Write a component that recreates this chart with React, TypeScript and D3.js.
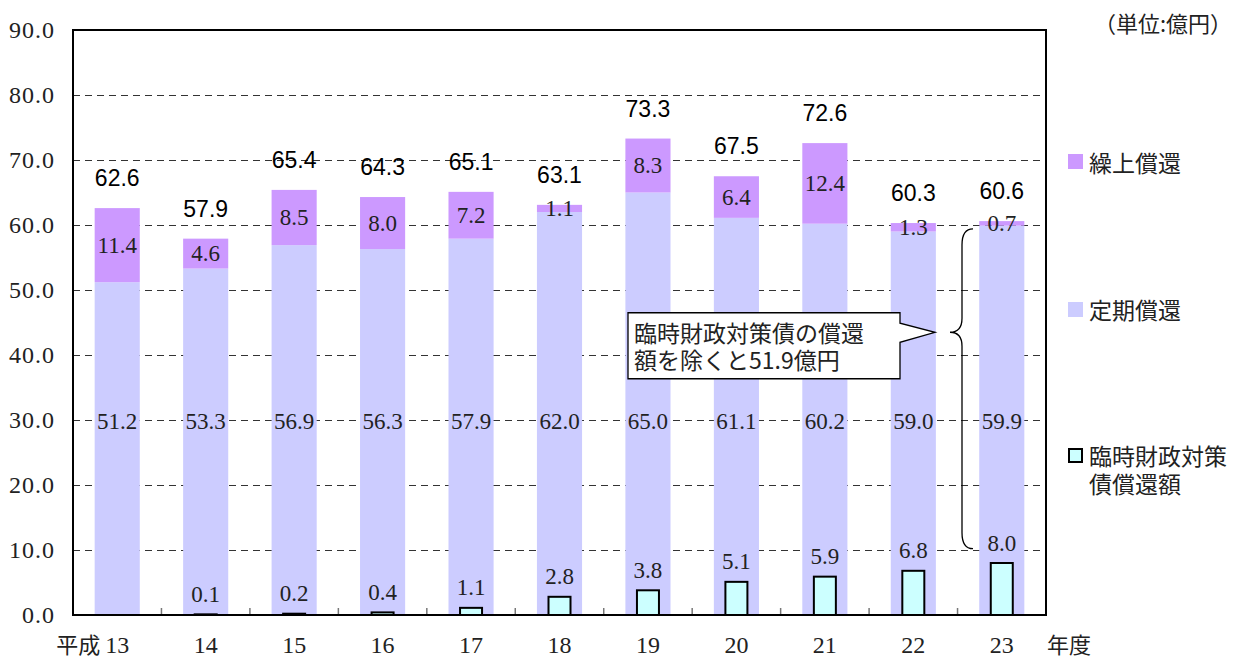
import React from "react";
import * as d3 from "d3";

// 年度 (平成)
const years = ["13", "14", "15", "16", "17", "18", "19", "20", "21", "22", "23"];
// 定期償還 (億円)
const regular = [51.2, 53.3, 56.9, 56.3, 57.9, 62.0, 65.0, 61.1, 60.2, 59.0, 59.9];
// 繰上償還 (億円)
const early = [11.4, 4.6, 8.5, 8.0, 7.2, 1.1, 8.3, 6.4, 12.4, 1.3, 0.7];
// 臨時財政対策債償還額 (億円) — 平成13年度は該当なし
const special: (number | null)[] = [null, 0.1, 0.2, 0.4, 1.1, 2.8, 3.8, 5.1, 5.9, 6.8, 8.0];
const yTicks = [0, 10, 20, 30, 40, 50, 60, 70, 80, 90];

const C_EARLY = "#CC99FF";
const C_REG = "#CCCCFF";
const C_SPEC = "#CCFFFF";

const SERIF = "'Liberation Serif', 'Noto Sans CJK JP', serif";
const SANS = "'Liberation Sans', Arial, sans-serif";
const CJK = "'Noto Sans CJK JP', sans-serif";

export default function App() {
  const W = 1240;
  const H = 659;
  const left = 73;
  const right = 1046;
  const top = 30;
  const bottom = 615;

  const x = d3
    .scaleBand<string>()
    .domain(years)
    .range([left, right])
    .paddingInner(0.49)
    .paddingOuter(0.245);
  const y = d3.scaleLinear().domain([0, 90]).range([bottom, top]);
  const step = x.step();
  const bw = x.bandwidth();
  const sw = 22;
  const fmt = d3.format(".1f");

  const totals = regular.map((r, i) => +(r + early[i]).toFixed(1));

  // brace and callout anchored to the value scale
  const braceTop = y(59.4);
  const braceMid = y(43.5);
  const braceBot = y(10.2);
  const bx = 962;
  const brace = `M ${bx + 11} ${braceTop} Q ${bx} ${braceTop} ${bx} ${braceTop + 16} L ${bx} ${braceMid - 14} Q ${bx} ${braceMid} ${bx - 12} ${braceMid} Q ${bx} ${braceMid} ${bx} ${braceMid + 14} L ${bx} ${braceBot - 16} Q ${bx} ${braceBot} ${bx + 11} ${braceBot}`;

  const boxL = 628;
  const boxR = 900;
  const boxT = y(46.5);
  const boxB = y(36.35);
  const tipX = 935;
  const callout = `M ${boxL} ${boxT} H ${boxR} V ${braceMid - 9} L ${tipX} ${braceMid} L ${boxR} ${braceMid + 10} V ${boxB} H ${boxL} Z`;

  const axisBaseline = 653;

  return (
    <svg
      width={W}
      height={H}
      style={{ position: "absolute", left: 0, top: 0, background: "#fff" }}
    >
      {/* gridlines */}
      {yTicks
        .filter((t) => t > 0 && t < 90)
        .map((t) => (
          <line
            key={t}
            x1={left}
            x2={right}
            y1={Math.round(y(t)) + 0.5}
            y2={Math.round(y(t)) + 0.5}
            stroke="#333"
            strokeWidth={1}
            strokeDasharray="7,5"
          />
        ))}

      {/* stacked bars */}
      {years.map((yr, i) => (
        <g key={yr}>
          <rect
            x={x(yr)}
            y={y(regular[i])}
            width={bw}
            height={y(0) - y(regular[i])}
            fill={C_REG}
          />
          <rect
            x={x(yr)}
            y={y(totals[i])}
            width={bw}
            height={y(regular[i]) - y(totals[i])}
            fill={C_EARLY}
          />
        </g>
      ))}

      {/* 臨時財政対策債償還額 */}
      {years.map((yr, i) => {
        const v = special[i];
        if (v == null) return null;
        const cx = (x(yr) as number) + bw / 2;
        return (
          <rect
            key={yr}
            x={cx - sw / 2}
            y={y(v)}
            width={sw}
            height={y(0) - y(v)}
            fill={C_SPEC}
            stroke="#000"
            strokeWidth={2}
          />
        );
      })}

      {/* x tick marks between categories */}
      {years.slice(1).map((yr, i) => (
        <line
          key={yr}
          x1={left + step * (i + 1)}
          x2={left + step * (i + 1)}
          y1={bottom}
          y2={bottom - 7}
          stroke="#777"
          strokeWidth={1.5}
        />
      ))}

      {/* plot frame */}
      <rect
        x={left}
        y={top}
        width={right - left}
        height={bottom - top}
        fill="none"
        stroke="#000"
        strokeWidth={2}
      />

      {/* labels in segments */}
      {years.map((yr, i) => {
        const cx = (x(yr) as number) + bw / 2;
        const v = special[i];
        return (
          <g key={yr} fontFamily={SERIF} fontSize={23} fill="#222" textAnchor="middle">
            <text x={cx} y={(y(regular[i]) + y(totals[i])) / 2} dominantBaseline="central">
              {fmt(early[i])}
            </text>
            <text x={cx} y={y(29.8)} dominantBaseline="central">
              {fmt(regular[i])}
            </text>
            {v != null && (
              <text x={cx} y={y(v) - 20} dominantBaseline="central">
                {fmt(v)}
              </text>
            )}
            <text
              x={cx}
              y={y(totals[i]) - 30}
              dominantBaseline="central"
              fontFamily={SANS}
              fontSize={23}
              fill="#000"
            >
              {fmt(totals[i])}
            </text>
          </g>
        );
      })}

      {/* y axis labels */}
      {yTicks.map((t) => (
        <text
          key={t}
          x={55}
          y={y(t)}
          textAnchor="end"
          dominantBaseline="central"
          fontFamily={SERIF}
          fontSize={24}
          letterSpacing={1}
          fill="#222"
        >
          {fmt(t)}
        </text>
      ))}

      {/* x axis labels */}
      {years.map((yr) => (
        <text
          key={yr}
          x={(x(yr) as number) + bw / 2}
          y={axisBaseline}
          textAnchor="middle"
          fontFamily={SERIF}
          fontSize={24}
          fill="#222"
        >
          {yr}
        </text>
      ))}
      <text
        x={(x(years[0]) as number) + bw / 2 - 17}
        y={axisBaseline}
        textAnchor="end"
        fontFamily={CJK}
        fontSize={22}
        fill="#222"
      >
        平成
      </text>
      <text x={1047} y={axisBaseline} fontFamily={CJK} fontSize={22} fill="#222">
        年度
      </text>

      {/* unit */}
      <text x={1094} y={22} dominantBaseline="central" fontFamily={CJK} fontSize={22} fill="#222">
        （単位:億円）
      </text>

      {/* legend */}
      <g fontFamily={CJK} fontSize={23} fill="#222">
        <rect x={1068} y={154} width={15} height={15} fill={C_EARLY} />
        <text x={1089} y={162} dominantBaseline="central">繰上償還</text>
        <rect x={1068} y={302} width={15} height={15} fill={C_REG} />
        <text x={1089} y={309} dominantBaseline="central">定期償還</text>
        <rect x={1069} y={449} width={13} height={13} fill={C_SPEC} stroke="#000" strokeWidth={2} />
        <text x={1089} y={455} dominantBaseline="central">臨時財政対策</text>
        <text x={1089} y={483} dominantBaseline="central">債償還額</text>
      </g>

      {/* brace and callout */}
      <path d={brace} fill="none" stroke="#000" strokeWidth={1.3} />
      <path d={callout} fill="#fff" stroke="#000" strokeWidth={1.3} />
      <g fontFamily={CJK} fontSize={23} fill="#222">
        <text x={634} y={braceMid} dominantBaseline="central">臨時財政対策債の償還</text>
        <text x={634} y={braceMid + 27} dominantBaseline="central">額を除くと51.9億円</text>
      </g>
    </svg>
  );
}
